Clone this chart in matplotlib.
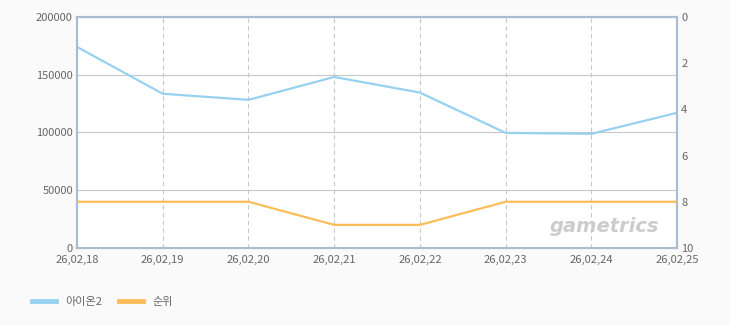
import matplotlib.pyplot as plt
from matplotlib.lines import Line2D

plt.rcParams['font.family'] = ['Noto Sans CJK KR', 'DejaVu Sans']

dates = ["26,02,18", "26,02,19", "26,02,20", "26,02,21",
         "26,02,22", "26,02,23", "26,02,24", "26,02,25"]
players = [174000, 133500, 128200, 148000, 134500, 99600, 98800, 117000]
ranks = [8, 8, 8, 9, 9, 8, 8, 8]

blue = "#96d2ef"
orange = "#fbbd5a"
frame = "#a9bcd0"
txt = "#666666"

fig = plt.figure(figsize=(7.3, 3.25), dpi=100, facecolor="#fafafa")
ax = fig.add_axes([0.1055, 0.237, 0.822, 0.711])
ax.set_facecolor("#ffffff")

x = list(range(len(dates)))
ax.plot(x, players, color=blue, linewidth=1.6, zorder=3)
ax.set_xlim(0, len(dates) - 1)
ax.set_ylim(0, 200000)
ax.set_yticks([0, 50000, 100000, 150000, 200000])
ax.set_yticklabels(["0", "50000", "100000", "150000", "200000"])
ax.set_xticks(x)
ax.set_xticklabels(dates)
ax.grid(axis="y", color="#c8c8c8", linewidth=0.8, linestyle="-")
ax.grid(axis="x", color="#c8c8c8", linewidth=0.8, linestyle=(0, (4, 3)))
ax.tick_params(axis="y", length=0, labelsize=8, colors=txt, pad=3)
ax.tick_params(axis="x", length=0, labelsize=8, colors=txt, pad=5)

ax2 = ax.twinx()
ax2.plot(x, ranks, color=orange, linewidth=1.6, zorder=3)
ax2.set_ylim(10, 0)
ax2.set_yticks([0, 2, 4, 6, 8, 10])
ax2.tick_params(length=0, labelsize=8, colors=txt, pad=3)

for a in (ax, ax2):
    for s in a.spines.values():
        s.set_color(frame)
        s.set_linewidth(1.5)

ax.text(0.97, 0.05, "gametrics", transform=ax.transAxes, ha="right",
        va="bottom", fontsize=14, color="#cccccc", fontweight="bold",
        style="italic", family="DejaVu Sans")

handles = [Line2D([], [], color=blue, linewidth=3.5),
           Line2D([], [], color=orange, linewidth=3.5)]
fig.legend(handles, ["아이온2", "순위"], loc="lower left",
           bbox_to_anchor=(0.03, 0.025), ncol=2, frameon=False,
           fontsize=8, handlelength=2.2, columnspacing=1.5,
           labelcolor=txt)

fig.savefig("out.png", dpi=100, facecolor=fig.get_facecolor())
